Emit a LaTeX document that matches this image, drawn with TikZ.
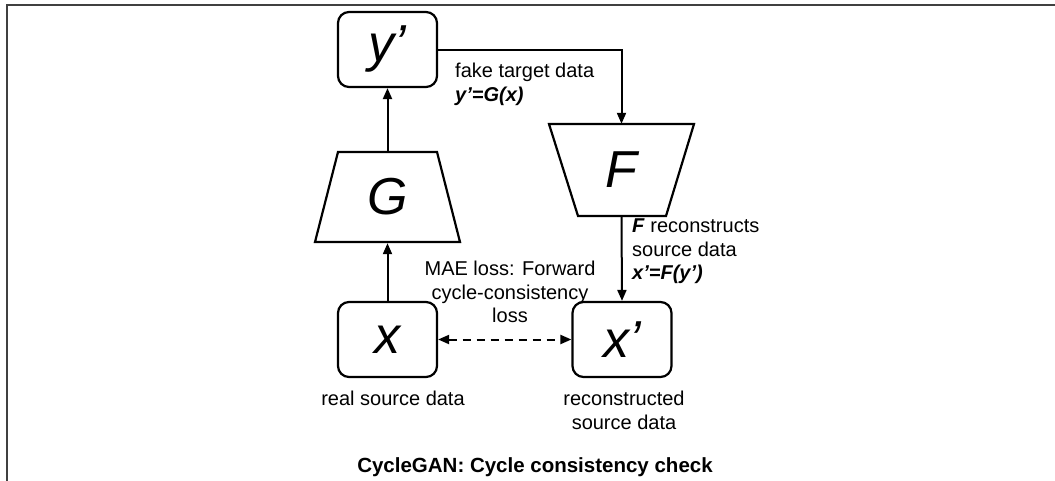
\documentclass[tikz,border=0pt]{standalone}
\usepackage{fontspec}
\setmainfont{Liberation Sans}
\usetikzlibrary{arrows.meta}
\begin{document}
\begin{tikzpicture}[x=1pt,y=-1pt,
  box/.style={draw,line width=2.2pt,rounded corners=11pt,minimum width=99pt,minimum height=75pt,inner sep=0pt,font=\fontsize{52}{52}\selectfont\itshape},
  trap/.style={minimum width=145pt,minimum height=92pt,inner sep=0pt,font=\fontsize{52}{52}\selectfont\itshape},
  lbl/.style={font=\fontsize{20}{23.5}\selectfont,inner sep=0pt},
  arr/.style={line width=2pt,-{Triangle[length=11pt,width=9pt]}},
  frame/.style={draw=black!75,line width=2.5pt}]
\useasboundingbox (0,0) rectangle (1055,480);
\coordinate (ftl) at (7,5);
\coordinate (ftr) at (1056,5);
\coordinate (fbl) at (7,481);
\draw[frame] (fbl) -- (ftl) -- (ftr);
% nodes
\node[box] (yp) at (387.5,49.5) {y’};
\node[trap] (G) at (387.5,197) {G};
\node[box] (x) at (387.5,339.5) {x};
\node[trap] (F) at (621.5,170) {F};
\node[box] (xp) at (622,339.5) {x’};
% trapezoid outlines
\draw[line width=2.2pt,line join=miter] (338,152) -- (437,152) -- (460,242) -- (315,242) -- cycle;
\draw[line width=2.2pt,line join=miter] (549,124) -- (694,124) -- (666,216) -- (578,216) -- cycle;
% connectors
\draw[arr] (x.north) -- (G.south);
\draw[arr] (G.north) -- (yp.south);
\draw[arr] (yp.east) -| (F.north);
\draw[arr] (F.south) -- (xp.north);
\draw[line width=2pt,dash pattern=on 8pt off 6pt,{Triangle[length=11pt,width=9pt]}-{Triangle[length=11pt,width=9pt]}] (x.east) -- (xp.west);
% labels
\node[lbl,align=left,anchor=north west] (lfake) at (455,63) {fake target data\\\textbf{\textit{y’=G(x)}}};
\node[lbl,align=left,anchor=north west] (lrec) at (632,219) {\textbf{\textit{F}} reconstructs\\source data\\\textbf{\textit{x’=F(y’)}}};
\node[lbl,align=center] (lmae) at (510,292) {MAE loss: Forward\\cycle-consistency\\loss};
\node[lbl] (lreal) at (393,398) {real source data};
\node[lbl,align=center] (lrecon) at (624,410.5) {reconstructed\\source data};
\node[lbl,font=\fontsize{20.5}{23.5}\selectfont\bfseries] (title) at (535,467) {CycleGAN: Cycle consistency check};
\end{tikzpicture}
\end{document}
